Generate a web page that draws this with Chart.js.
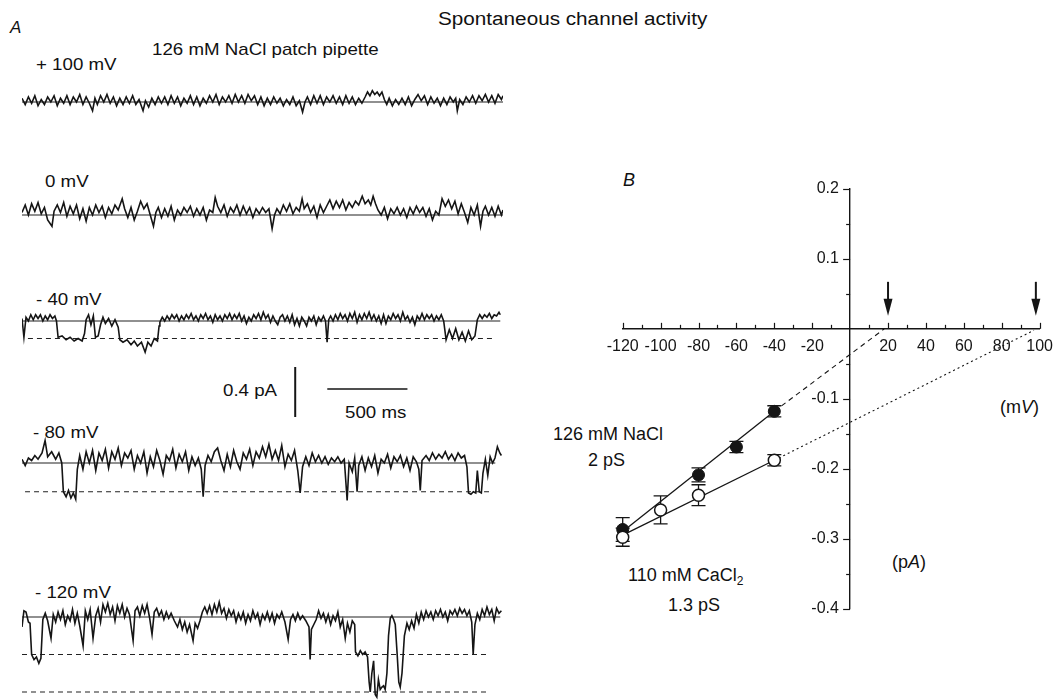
<!DOCTYPE html>
<html><head><meta charset="utf-8">
<script src="https://cdn.jsdelivr.net/npm/chart.js@4.4.0/dist/chart.umd.min.js"></script>
<style>
html,body{margin:0;padding:0;background:#fff;}
#wrap{position:relative;width:1061px;height:700px;overflow:hidden;font-family:"Liberation Sans",Arial,sans-serif;color:#111;}
canvas{position:absolute;}
.t{position:absolute;white-space:nowrap;line-height:1;font-size:17px;transform-origin:0 50%;}
.a{transform:scaleX(1.1);}
.b{font-size:18px;}
</style></head><body><div id="wrap">
<div class="t a" style="left:438px;top:10px;font-size:18px;transform:scaleX(1.15)">Spontaneous channel activity</div>
<div class="t" style="left:10px;top:19px;font-style:italic">A</div>
<div class="t a" style="left:152px;top:41px">126 mM NaCl patch pipette</div>
<div class="t a" style="left:36px;top:56px">+ 100 mV</div>
<div class="t a" style="left:45px;top:173px">0 mV</div>
<div class="t a" style="left:36px;top:291px">- 40 mV</div>
<div class="t a" style="left:223px;top:382px">0.4 pA</div>
<div class="t a" style="left:345px;top:404px">500 ms</div>
<div class="t a" style="left:33px;top:424px">- 80 mV</div>
<div class="t a" style="left:35px;top:584px">- 120 mV</div>
<div class="t b" style="left:623px;top:171px;font-style:italic">B</div>
<div class="t b" style="left:553px;top:425px">126 mM NaCl</div>
<div class="t b" style="left:588px;top:451px">2 pS</div>
<div class="t b" style="left:628px;top:566px">110 mM CaCl<sub style="font-size:12px;vertical-align:-4px">2</sub></div>
<div class="t b" style="left:668px;top:596px">1.3 pS</div>
<div class="t b" style="left:1000px;top:398px">(m<i>V</i>)</div>
<div class="t b" style="left:892px;top:553px">(p<i>A</i>)</div>
<canvas id="tr1" width="481" height="30" style="left:22px;top:87px"></canvas>
<canvas id="tr2" width="481" height="45" style="left:22px;top:190px"></canvas>
<canvas id="tr3" width="481" height="55" style="left:22px;top:306px"></canvas>
<canvas id="bar" width="481" height="65" style="left:22px;top:360px"></canvas>
<canvas id="tr4" width="481" height="75" style="left:22px;top:433px"></canvas>
<canvas id="tr5" width="481" height="105" style="left:22px;top:597px"></canvas>
<canvas id="iv" width="521" height="480" style="left:540px;top:150px"></canvas>
</div>
<script>
// ---------- Panel A: single-channel traces, [time ms, current pA] ----------
const trace100 = [[0,0.03],[20,-0.02],[40,0.04],[60,-0.01],[80,0.05],[100,-0.03],[120,0.02],[140,-0.02],[160,0.04],[180,0.00],[200,0.05],[220,-0.03],[240,0.03],[260,-0.01],[280,0.05],[300,-0.02],[320,0.04],[340,0.00],[360,0.06],[380,-0.02],[400,0.04],[420,-0.01],[440,-0.07],[455,0.03],[470,-0.02],[490,0.05],[510,0.00],[530,0.06],[550,-0.01],[570,0.04],[590,-0.03],[610,0.03],[630,-0.02],[650,0.04],[670,-0.01],[690,0.05],[710,-0.02],[730,0.02],[755,-0.07],[770,0.01],[790,-0.04],[810,0.03],[830,-0.02],[850,0.04],[870,-0.01],[890,0.04],[910,-0.02],[930,0.05],[950,-0.01],[970,0.04],[990,-0.03],[1010,0.03],[1030,-0.01],[1050,0.05],[1070,-0.02],[1090,0.04],[1110,-0.03],[1130,0.03],[1150,-0.01],[1170,0.05],[1190,0.00],[1210,0.06],[1230,-0.02],[1250,0.04],[1270,0.00],[1290,0.05],[1310,-0.01],[1330,0.06],[1350,0.00],[1370,0.05],[1390,-0.01],[1410,0.06],[1430,0.01],[1450,0.05],[1470,-0.02],[1490,0.04],[1510,-0.03],[1530,0.03],[1550,-0.02],[1570,0.04],[1590,-0.01],[1610,0.03],[1630,-0.03],[1650,0.02],[1670,-0.02],[1690,0.04],[1710,-0.03],[1730,0.01],[1750,-0.08],[1765,0.00],[1780,0.04],[1800,-0.02],[1820,0.05],[1840,-0.01],[1860,0.05],[1880,-0.02],[1900,0.04],[1920,0.00],[1940,0.05],[1960,-0.01],[1980,0.04],[2000,-0.02],[2020,0.05],[2040,-0.01],[2060,0.04],[2080,-0.02],[2100,0.03],[2120,-0.01],[2140,0.04],[2155,0.08],[2170,0.05],[2185,0.09],[2200,0.06],[2215,0.08],[2230,0.05],[2245,0.08],[2260,0.02],[2275,-0.02],[2290,0.03],[2310,-0.03],[2330,0.02],[2350,-0.02],[2370,0.03],[2390,-0.02],[2410,0.04],[2430,-0.03],[2450,0.02],[2470,0.06],[2490,0.01],[2510,0.05],[2530,-0.02],[2550,0.04],[2570,-0.01],[2590,0.03],[2610,-0.03],[2630,0.03],[2650,-0.02],[2670,0.04],[2690,0.00],[2705,0.03],[2715,-0.07],[2730,0.02],[2750,-0.02],[2770,0.04],[2790,0.00],[2810,0.05],[2830,-0.01],[2850,0.05],[2870,0.01],[2890,0.06],[2910,0.00],[2930,0.05],[2950,-0.01],[2970,0.06],[2990,0.02],[3000,0.05]];
const trace0 = [[0,0.02],[20,0.08],[40,0.00],[60,0.09],[80,0.03],[100,0.10],[120,0.01],[140,0.06],[160,-0.04],[187,-0.09],[200,0.03],[220,0.08],[240,0.02],[260,0.10],[280,-0.01],[300,0.07],[320,0.01],[340,0.08],[360,-0.03],[380,0.05],[400,-0.05],[420,0.06],[440,0.00],[460,0.08],[480,0.02],[500,0.07],[520,-0.02],[540,0.06],[560,0.01],[580,0.08],[600,0.04],[625,0.13],[640,0.05],[660,-0.02],[680,0.06],[700,-0.04],[720,0.03],[740,0.11],[760,0.05],[780,0.09],[800,0.00],[820,-0.09],[835,0.02],[850,0.06],[870,-0.02],[890,0.05],[910,-0.01],[930,0.07],[950,-0.04],[970,0.04],[990,0.00],[1010,0.06],[1030,0.02],[1050,0.07],[1070,-0.01],[1090,0.05],[1110,0.00],[1130,0.06],[1150,-0.04],[1170,0.04],[1190,0.02],[1205,0.14],[1220,0.07],[1240,0.02],[1260,0.08],[1280,-0.01],[1300,0.06],[1320,0.02],[1340,0.08],[1360,0.00],[1380,0.07],[1400,0.01],[1420,0.06],[1440,-0.02],[1460,0.05],[1480,0.01],[1500,0.06],[1520,0.02],[1540,0.05],[1560,-0.11],[1575,0.00],[1590,0.05],[1610,0.01],[1630,0.08],[1650,0.03],[1670,0.09],[1690,0.01],[1710,0.06],[1730,0.03],[1747,0.13],[1760,0.05],[1780,0.09],[1800,0.02],[1820,0.07],[1840,-0.02],[1860,0.08],[1880,0.02],[1900,0.07],[1920,0.12],[1940,0.05],[1960,0.11],[1980,0.06],[2000,0.12],[2020,0.04],[2040,0.10],[2060,0.06],[2080,0.11],[2100,0.08],[2122,0.15],[2140,0.09],[2160,0.12],[2175,0.08],[2190,0.15],[2205,0.09],[2220,0.04],[2240,0.00],[2260,0.06],[2280,-0.03],[2300,0.05],[2320,0.01],[2340,0.06],[2360,0.00],[2380,0.05],[2400,-0.02],[2420,0.06],[2440,0.01],[2460,0.07],[2480,0.02],[2500,0.06],[2520,-0.01],[2540,0.05],[2560,-0.04],[2580,0.03],[2600,0.00],[2620,0.13],[2640,0.07],[2660,0.12],[2680,0.05],[2700,0.11],[2720,0.01],[2740,0.09],[2760,0.02],[2780,-0.06],[2800,0.06],[2820,0.00],[2840,0.08],[2860,-0.09],[2875,0.03],[2890,0.07],[2910,0.00],[2930,0.06],[2950,-0.01],[2970,0.07],[2990,0.00],[3000,0.04]];
const traceM40 = [[0,0.02],[12,-0.13],[25,0.03],[40,0.00],[55,0.05],[70,0.01],[85,0.05],[100,0.02],[115,0.05],[130,0.00],[145,0.04],[160,0.01],[175,0.05],[190,0.02],[205,0.04],[215,0.00],[225,-0.13],[250,-0.12],[275,-0.15],[300,-0.13],[325,-0.16],[350,-0.14],[375,-0.16],[390,-0.10],[400,0.01],[415,0.05],[430,-0.03],[445,0.04],[458,-0.13],[475,-0.12],[490,-0.03],[505,0.03],[520,-0.02],[540,0.02],[560,-0.04],[580,0.01],[600,-0.05],[610,-0.15],[630,-0.17],[655,-0.15],[680,-0.19],[700,-0.16],[720,-0.20],[745,-0.17],[768,-0.25],[785,-0.17],[805,-0.20],[825,-0.14],[845,-0.16],[855,-0.04],[860,-0.01],[875,0.03],[890,0.00],[905,0.04],[920,0.01],[935,0.05],[950,0.02],[965,0.05],[980,0.00],[995,0.04],[1010,0.01],[1025,0.05],[1040,0.02],[1055,0.06],[1070,0.01],[1085,0.04],[1100,0.00],[1115,0.05],[1130,0.02],[1145,0.06],[1160,0.01],[1175,0.04],[1190,-0.01],[1205,0.05],[1220,0.01],[1235,0.04],[1250,0.00],[1265,0.05],[1280,0.02],[1295,0.06],[1310,0.01],[1325,0.05],[1340,0.02],[1355,0.06],[1370,0.00],[1385,0.04],[1400,-0.02],[1415,0.03],[1430,0.00],[1445,0.05],[1460,0.02],[1475,0.06],[1490,0.01],[1505,0.07],[1520,0.02],[1535,0.05],[1550,-0.01],[1565,0.04],[1580,0.00],[1595,-0.03],[1610,0.03],[1625,0.05],[1640,0.00],[1655,0.04],[1670,-0.01],[1685,0.05],[1700,-0.03],[1715,0.02],[1730,-0.04],[1745,0.03],[1760,0.00],[1775,-0.04],[1790,0.03],[1805,0.00],[1820,0.04],[1835,-0.03],[1850,0.03],[1865,0.00],[1880,0.04],[1893,0.00],[1903,-0.17],[1913,0.01],[1925,0.04],[1940,0.00],[1955,0.05],[1970,0.01],[1985,0.06],[2000,0.02],[2015,0.05],[2030,0.00],[2045,0.06],[2060,0.02],[2075,0.07],[2090,-0.01],[2105,0.05],[2120,0.01],[2135,0.06],[2150,0.02],[2165,0.07],[2180,0.01],[2195,0.05],[2210,0.00],[2225,0.04],[2240,-0.02],[2255,0.05],[2270,-0.02],[2285,0.04],[2300,0.01],[2315,0.06],[2330,0.02],[2345,0.05],[2360,0.00],[2375,0.07],[2390,0.01],[2405,0.04],[2420,-0.01],[2435,0.03],[2450,-0.03],[2465,0.04],[2480,0.01],[2495,0.06],[2510,0.01],[2525,0.05],[2540,0.02],[2555,0.05],[2570,0.00],[2585,0.04],[2600,0.01],[2615,0.05],[2630,0.00],[2645,-0.15],[2665,-0.07],[2685,-0.14],[2705,-0.06],[2725,-0.15],[2745,-0.09],[2765,-0.16],[2785,-0.08],[2805,-0.15],[2825,-0.12],[2840,0.01],[2855,0.05],[2870,0.02],[2885,0.05],[2900,0.03],[2915,0.06],[2930,0.02],[2945,0.05],[2960,0.04],[2975,0.07],[2983,0.05]];
const traceM80 = [[0,0.03],[20,-0.02],[40,0.04],[60,0.02],[80,0.06],[100,0.03],[125,0.08],[144,0.18],[160,0.05],[185,0.09],[210,0.03],[230,0.08],[248,0.00],[258,-0.23],[275,-0.27],[290,-0.22],[305,-0.28],[320,-0.24],[335,-0.29],[345,-0.05],[360,0.06],[380,-0.05],[400,0.09],[420,0.00],[440,0.10],[460,-0.06],[480,0.08],[500,0.02],[520,0.11],[540,-0.04],[560,0.09],[580,0.03],[600,0.12],[620,-0.02],[640,0.08],[660,0.04],[680,0.10],[700,-0.05],[720,0.06],[740,0.00],[760,0.09],[780,-0.08],[800,0.05],[820,-0.03],[840,0.10],[860,0.02],[880,-0.09],[900,0.06],[920,0.02],[940,0.11],[960,-0.04],[980,0.07],[1000,0.01],[1020,0.09],[1040,-0.06],[1060,0.05],[1080,-0.02],[1100,0.04],[1118,-0.05],[1130,-0.27],[1142,-0.02],[1160,0.06],[1180,0.01],[1200,0.09],[1220,0.12],[1240,0.02],[1260,-0.06],[1280,0.07],[1300,-0.03],[1320,0.10],[1340,0.01],[1360,-0.05],[1380,0.08],[1400,0.03],[1420,0.11],[1440,-0.02],[1460,0.09],[1480,0.04],[1500,0.13],[1520,0.05],[1540,0.15],[1560,0.03],[1580,0.10],[1600,0.02],[1620,0.14],[1640,-0.03],[1660,0.07],[1680,0.02],[1700,0.10],[1720,-0.06],[1735,-0.24],[1750,-0.03],[1770,0.05],[1790,-0.02],[1810,0.08],[1830,0.01],[1850,0.06],[1870,0.00],[1890,0.05],[1910,-0.01],[1930,0.04],[1950,0.01],[1970,0.05],[1990,0.00],[2010,0.03],[2028,-0.30],[2040,0.00],[2060,-0.07],[2075,0.04],[2090,-0.23],[2100,-0.02],[2120,0.05],[2140,-0.06],[2160,0.04],[2180,-0.03],[2200,0.06],[2220,-0.08],[2240,0.03],[2260,0.00],[2280,0.07],[2300,-0.04],[2320,0.05],[2340,0.01],[2360,0.06],[2380,-0.03],[2400,0.04],[2420,-0.06],[2440,0.05],[2460,0.01],[2475,-0.05],[2484,-0.22],[2495,0.02],[2520,0.06],[2540,0.02],[2560,0.08],[2580,0.03],[2600,0.07],[2620,0.04],[2640,0.09],[2660,0.03],[2680,0.07],[2700,0.02],[2720,0.08],[2740,0.04],[2760,0.06],[2775,-0.03],[2785,-0.24],[2800,-0.25],[2815,-0.23],[2830,-0.24],[2840,-0.06],[2852,-0.23],[2865,-0.24],[2875,-0.08],[2890,0.03],[2905,-0.10],[2920,0.05],[2935,0.00],[2950,0.04],[2965,0.13],[2980,0.08],[2990,0.06]];
const traceM120 = [[0,-0.08],[12,0.05],[25,0.04],[40,-0.04],[50,-0.05],[60,-0.30],[75,-0.34],[90,-0.32],[105,-0.37],[118,-0.33],[130,-0.02],[145,0.03],[160,-0.03],[181,-0.17],[195,0.02],[210,-0.04],[225,0.04],[240,-0.02],[255,0.05],[270,-0.06],[285,0.01],[300,-0.03],[315,0.06],[330,-0.05],[345,0.03],[360,-0.07],[381,-0.23],[395,0.05],[410,-0.02],[425,0.06],[443,-0.17],[460,0.01],[475,0.07],[490,-0.04],[505,0.10],[520,0.04],[535,0.11],[550,0.02],[565,0.08],[580,-0.03],[595,0.09],[610,0.03],[625,0.10],[640,0.00],[655,0.07],[670,0.02],[693,-0.19],[705,0.05],[720,0.08],[735,0.01],[750,0.09],[765,0.03],[780,0.10],[795,0.00],[811,-0.14],[825,0.04],[840,0.07],[855,0.01],[870,0.05],[885,-0.02],[900,0.04],[915,-0.01],[930,0.03],[950,-0.03],[970,-0.08],[985,-0.02],[1000,-0.10],[1015,-0.04],[1030,-0.12],[1045,-0.06],[1067,-0.19],[1080,-0.05],[1095,-0.09],[1110,-0.03],[1125,0.04],[1140,0.08],[1155,0.03],[1170,0.09],[1185,0.02],[1200,0.10],[1215,0.04],[1230,0.12],[1245,0.03],[1260,0.07],[1275,-0.01],[1290,0.06],[1305,0.01],[1320,0.05],[1335,-0.04],[1350,0.03],[1365,-0.02],[1380,0.04],[1395,-0.05],[1410,0.02],[1425,-0.03],[1440,0.05],[1455,-0.01],[1470,0.03],[1485,-0.06],[1500,0.02],[1515,-0.02],[1530,0.04],[1545,-0.03],[1560,0.03],[1575,-0.05],[1590,0.02],[1605,-0.01],[1620,0.04],[1640,-0.04],[1660,-0.18],[1675,-0.02],[1690,0.02],[1705,-0.03],[1720,0.03],[1735,-0.02],[1750,0.01],[1770,-0.03],[1790,-0.08],[1797,-0.34],[1805,-0.10],[1820,-0.06],[1835,-0.02],[1850,0.05],[1865,-0.01],[1880,0.03],[1895,-0.04],[1910,0.02],[1925,-0.06],[1940,0.01],[1955,-0.03],[1970,0.04],[1985,-0.08],[2000,-0.02],[2016,-0.17],[2030,-0.05],[2045,-0.12],[2060,-0.03],[2075,-0.06],[2080,-0.28],[2095,-0.31],[2110,-0.27],[2125,-0.30],[2140,-0.28],[2155,-0.32],[2165,-0.52],[2172,-0.60],[2182,-0.45],[2193,-0.35],[2203,-0.62],[2213,-0.64],[2223,-0.50],[2234,-0.58],[2245,-0.56],[2255,-0.55],[2265,-0.58],[2276,-0.45],[2286,-0.15],[2297,-0.01],[2307,0.01],[2318,-0.02],[2328,-0.06],[2340,-0.30],[2350,-0.52],[2359,-0.56],[2370,-0.45],[2385,-0.15],[2401,-0.05],[2415,-0.10],[2430,-0.03],[2445,-0.09],[2460,0.02],[2475,-0.05],[2490,0.04],[2505,-0.02],[2520,0.05],[2535,0.00],[2550,0.04],[2565,-0.02],[2580,0.05],[2595,0.01],[2610,0.06],[2625,0.00],[2640,0.04],[2655,-0.03],[2670,0.05],[2685,0.02],[2700,0.06],[2715,0.01],[2730,0.07],[2745,0.03],[2760,0.06],[2775,0.01],[2790,0.05],[2805,-0.04],[2814,-0.30],[2825,-0.06],[2840,0.03],[2855,-0.02],[2870,0.06],[2885,0.01],[2900,0.08],[2915,0.02],[2930,0.06],[2945,-0.03],[2960,0.07],[2975,0.03],[2990,0.05]];
// open-channel current levels (pA) marked by dashed lines
const levelsM40 = [-0.14];
const levelsM80 = [-0.23];
const levelsM120 = [-0.30, -0.60];
// scale bars
const scaleBarPA = 0.4;
const scaleBarMS = 500;

// ---------- Panel B: I-V relation ----------
const naclV = [-120, -80, -60, -40];
const naclI = [-0.287, -0.209, -0.169, -0.118];
const naclErr = [0.017, 0.010, 0.008, 0.008];
const cacl2V = [-120, -100, -80, -40];
const cacl2I = [-0.298, -0.259, -0.238, -0.188];
const cacl2Err = [0.013, 0.020, 0.015, 0.008];
const naclFitV = [-120, -40];  const naclFitI = [-0.290, -0.118];
const naclExtV = [-40, 18];    const naclExtI = [-0.118, 0];
const cacl2FitV = [-120, -40]; const cacl2FitI = [-0.295, -0.188];
const cacl2ExtV = [-40, 97];   const cacl2ExtI = [-0.188, -0.002];
const reversalV = [20, 98];
const xTickValues = [-120, 100, 10];   // min, max, step (mV)
const yTickValues = [-0.4, 0.2, 0.05]; // min, max, step (pA)

const FONT = '"Liberation Sans", Arial, sans-serif';
const INK = '#151515';
const toXY = pairs => pairs.map(p => ({x: p[0], y: p[1]}));
const zip = (xs, ys) => xs.map((v, k) => ({x: v, y: ys[k]}));

function traceChart(id, samples, levels, yMin, yMax, solidEnd, dashStart, dashEnd) {
  const ds = [];
  ds.push({data: toXY(samples), borderColor: INK, borderWidth: 1.6, pointRadius: 0, showLine: true, order: 0});
  ds.push({data: [{x: 0, y: 0}, {x: solidEnd, y: 0}], borderColor: '#222', borderWidth: 1.1, pointRadius: 0, showLine: true, order: 1});
  levels.forEach(l => ds.push({data: [{x: dashStart, y: l}, {x: dashEnd, y: l}], borderColor: '#222', borderWidth: 1.2, borderDash: [5, 4], pointRadius: 0, showLine: true, order: 2}));
  return new Chart(document.getElementById(id), {
    type: 'scatter',
    data: {datasets: ds},
    options: {
      responsive: false, animation: false, events: [],
      layout: {padding: 0},
      plugins: {legend: {display: false}, tooltip: {enabled: false}},
      scales: {
        x: {type: 'linear', display: false, min: 0, max: 3000},
        y: {type: 'linear', display: false, min: yMin, max: yMax}
      }
    }
  });
}
traceChart('tr1', trace100, [], -0.12, 0.12, 3000, 0, 0);
traceChart('tr2', trace0, [], -0.16, 0.20, 3000, 0, 0);
traceChart('tr3', traceM40, levelsM40, -0.32, 0.12, 2983, 37, 2939);
traceChart('tr4', traceM80, levelsM80, -0.36, 0.24, 2952, 19, 2933);
traceChart('tr5', traceM120, levelsM120, -0.68, 0.16, 2983, 0, 2908);

// scale bar chart, same units as traces
new Chart(document.getElementById('bar'), {
  type: 'scatter',
  data: {datasets: [
    {data: [{x: 1704, y: 0.064}, {x: 1704, y: 0.064 + scaleBarPA}], borderColor: INK, borderWidth: 2, pointRadius: 0, showLine: true},
    {data: [{x: 1904, y: 0.288}, {x: 1904 + scaleBarMS, y: 0.288}], borderColor: INK, borderWidth: 1.3, pointRadius: 0, showLine: true}
  ]},
  options: {
    responsive: false, animation: false, events: [], layout: {padding: 0},
    plugins: {legend: {display: false}, tooltip: {enabled: false}},
    scales: {x: {type: 'linear', display: false, min: 0, max: 3000}, y: {type: 'linear', display: false, min: 0, max: 0.52}}
  }
});

const ivExtras = {
  id: 'ivExtras',
  beforeDatasetsDraw(chart) {
    const {ctx, scales: {x, y}} = chart;
    ctx.save();
    ctx.strokeStyle = INK; ctx.lineWidth = 1.3;
    [[naclV, naclI, naclErr], [cacl2V, cacl2I, cacl2Err]].forEach(([V, I, E]) => V.forEach((v, k) => {
      const px = x.getPixelForValue(v);
      const yt = y.getPixelForValue(I[k] + E[k]);
      const yb = y.getPixelForValue(I[k] - E[k]);
      ctx.beginPath();
      ctx.moveTo(px, yt); ctx.lineTo(px, yb);
      ctx.moveTo(px - 7, yt); ctx.lineTo(px + 7, yt);
      ctx.moveTo(px - 7, yb); ctx.lineTo(px + 7, yb);
      ctx.stroke();
    }));
    ctx.restore();
  },
  afterDraw(chart) {
    const {ctx, scales: {x, y}} = chart;
    const x0 = x.getPixelForValue(0), y0 = y.getPixelForValue(0);
    ctx.save();
    ctx.strokeStyle = INK; ctx.fillStyle = INK; ctx.lineWidth = 1.2;
    x.ticks.forEach(t => {
      const v = Math.round(t.value);
      if (v === 0) return;
      const px = Math.round(x.getPixelForValue(v)) + 0.5;
      const len = v % 20 === 0 ? 6 : 4;
      ctx.beginPath(); ctx.moveTo(px, y0); ctx.lineTo(px, y0 - len); ctx.stroke();
    });
    y.ticks.forEach(t => {
      const r = Math.round(t.value * 100);
      if (r === 0) return;
      const py = Math.round(y.getPixelForValue(t.value)) + 0.5;
      const len = r % 10 === 0 ? 7 : 4;
      ctx.beginPath(); ctx.moveTo(x0, py); ctx.lineTo(x0 - len, py); ctx.stroke();
    });
    // arrows marking the reversal potentials
    reversalV.forEach(v => {
      const px = x.getPixelForValue(v);
      ctx.lineWidth = 2;
      ctx.beginPath(); ctx.moveTo(px, y0 - 47); ctx.lineTo(px, y0 - 28); ctx.stroke();
      ctx.beginPath(); ctx.moveTo(px - 4.5, y0 - 30); ctx.lineTo(px + 4.5, y0 - 30); ctx.lineTo(px, y0 - 13); ctx.closePath(); ctx.fill();
    });
    ctx.restore();
  }
};

new Chart(document.getElementById('iv'), {
  type: 'scatter',
  data: {datasets: [
    {data: zip(cacl2V, cacl2I), pointRadius: 6, pointBackgroundColor: '#fff', pointBorderColor: INK, pointBorderWidth: 1.5, showLine: false, clip: false, order: 0},
    {data: zip(naclV, naclI), pointRadius: 6, pointBackgroundColor: INK, pointBorderColor: INK, pointBorderWidth: 1, showLine: false, clip: false, order: 0},
    {data: zip(naclFitV, naclFitI), borderColor: INK, borderWidth: 1.3, pointRadius: 0, showLine: true, order: 1},
    {data: zip(naclExtV, naclExtI), borderColor: INK, borderWidth: 1.1, borderDash: [5, 4], pointRadius: 0, showLine: true, order: 1},
    {data: zip(cacl2FitV, cacl2FitI), borderColor: INK, borderWidth: 1.3, pointRadius: 0, showLine: true, order: 1},
    {data: zip(cacl2ExtV, cacl2ExtI), borderColor: INK, borderWidth: 1.1, borderDash: [2, 3], pointRadius: 0, showLine: true, order: 1}
  ]},
  options: {
    responsive: false, animation: false, events: [],
    layout: {padding: {left: 82.7, right: 17, top: 39, bottom: 21.5}},
    plugins: {legend: {display: false}, tooltip: {enabled: false}},
    scales: {
      x: {
        type: 'linear', min: xTickValues[0], max: xTickValues[1], position: {y: 0},
        grid: {display: false, drawTicks: false},
        border: {display: true, color: INK, width: 1.4},
        ticks: {stepSize: xTickValues[2], autoSkip: false, maxRotation: 0, minRotation: 0, padding: 8, color: INK,
          font: {family: FONT, size: 16},
          callback: v => { const r = Math.round(v); return (r % 20 === 0 && r !== 0) ? String(r) : ''; }}
      },
      y: {
        type: 'linear', min: yTickValues[0], max: yTickValues[1], position: {x: 0},
        grid: {display: false, drawTicks: false},
        border: {display: true, color: INK, width: 1.4},
        ticks: {stepSize: yTickValues[2], autoSkip: false, padding: 10, color: INK,
          font: {family: FONT, size: 16},
          callback: v => { const r = Math.round(v * 100); return (r % 10 === 0 && r !== 0) ? (r / 100).toFixed(1) + '\u2002\u2009' : ''; }}
      }
    }
  },
  plugins: [ivExtras]
});
</script>
</body></html>
